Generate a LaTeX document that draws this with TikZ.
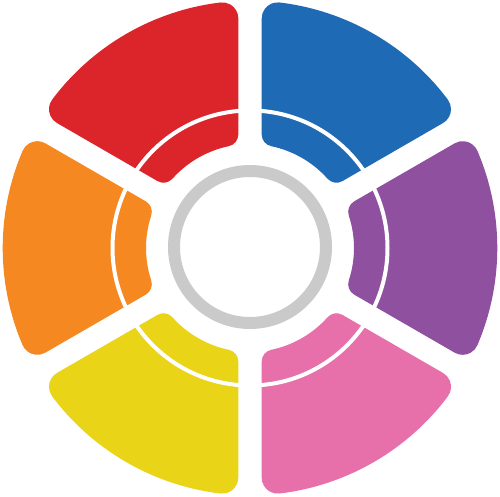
\documentclass[tikz,border=0pt]{standalone}
\begin{document}
\begin{tikzpicture}
\definecolor{segred}{RGB}{220,37,42}
\definecolor{segblue}{RGB}{31,106,180}
\definecolor{segpurple}{RGB}{143,80,160}
\definecolor{segpink}{RGB}{231,112,170}
\definecolor{segyellow}{RGB}{233,212,24}
\definecolor{segorange}{RGB}{245,136,32}
\definecolor{ringgray}{RGB}{202,202,202}
\useasboundingbox[fill=white] (-250pt,-249pt) rectangle (250pt,248pt);
\def\Rout{247.3}
\def\Rin{104}
\def\gap{11.7}
\def\fOut{16}
\def\fIn{12}
\pgfmathsetmacro\aO{30-asin((\gap+\fOut)/(\Rout-\fOut))}
\pgfmathsetmacro\bI{30-asin((\gap+\fIn)/(\Rin+\fIn))}
\pgfmathsetmacro\tI{sqrt(((\Rin+\fIn)/100)^2-((\gap+\fIn)/100)^2)*100}
\pgfmathsetmacro\tO{sqrt(((\Rout-\fOut)/100)^2-((\gap+\fOut)/100)^2)*100}
\pgfmathsetmacro\rI{sqrt((\tI/100)^2+(\gap/100)^2)*100}
\pgfmathsetmacro\aI{30-atan(\gap/\tI)}
\pgfmathsetmacro\rO{sqrt((\tO/100)^2+(\gap/100)^2)*100}
\pgfmathsetmacro\aOL{30-atan(\gap/\tO)}
\tikzset{
  segpath/.style={fill=#1},
}
\foreach \ang/\col in {0/segpurple,60/segblue,120/segred,180/segorange,240/segyellow,300/segpink}{
  \begin{scope}[rotate=\ang]
    \fill[\col] (-\aO:\Rout pt) arc[start angle=-\aO, end angle=\aO, radius=\Rout pt]
      arc[start angle=\aO, end angle=120, radius=\fOut pt]
      -- (\aI:\rI pt)
      arc[start angle=120, end angle=180+\bI, radius=\fIn pt]
      arc[start angle=\bI, end angle=-\bI, radius=\Rin pt]
      arc[start angle=180-\bI, end angle=240, radius=\fIn pt]
      -- (-\aOL:\rO pt)
      arc[start angle=240, end angle=360-\aO, radius=\fOut pt]
      -- cycle;
  \end{scope}
}
\draw[white, line width=4pt] (0,0) circle[radius=137.5pt];
\draw[ringgray, line width=12pt] (0,1pt) circle[radius=76pt];
\end{tikzpicture}
\end{document}
